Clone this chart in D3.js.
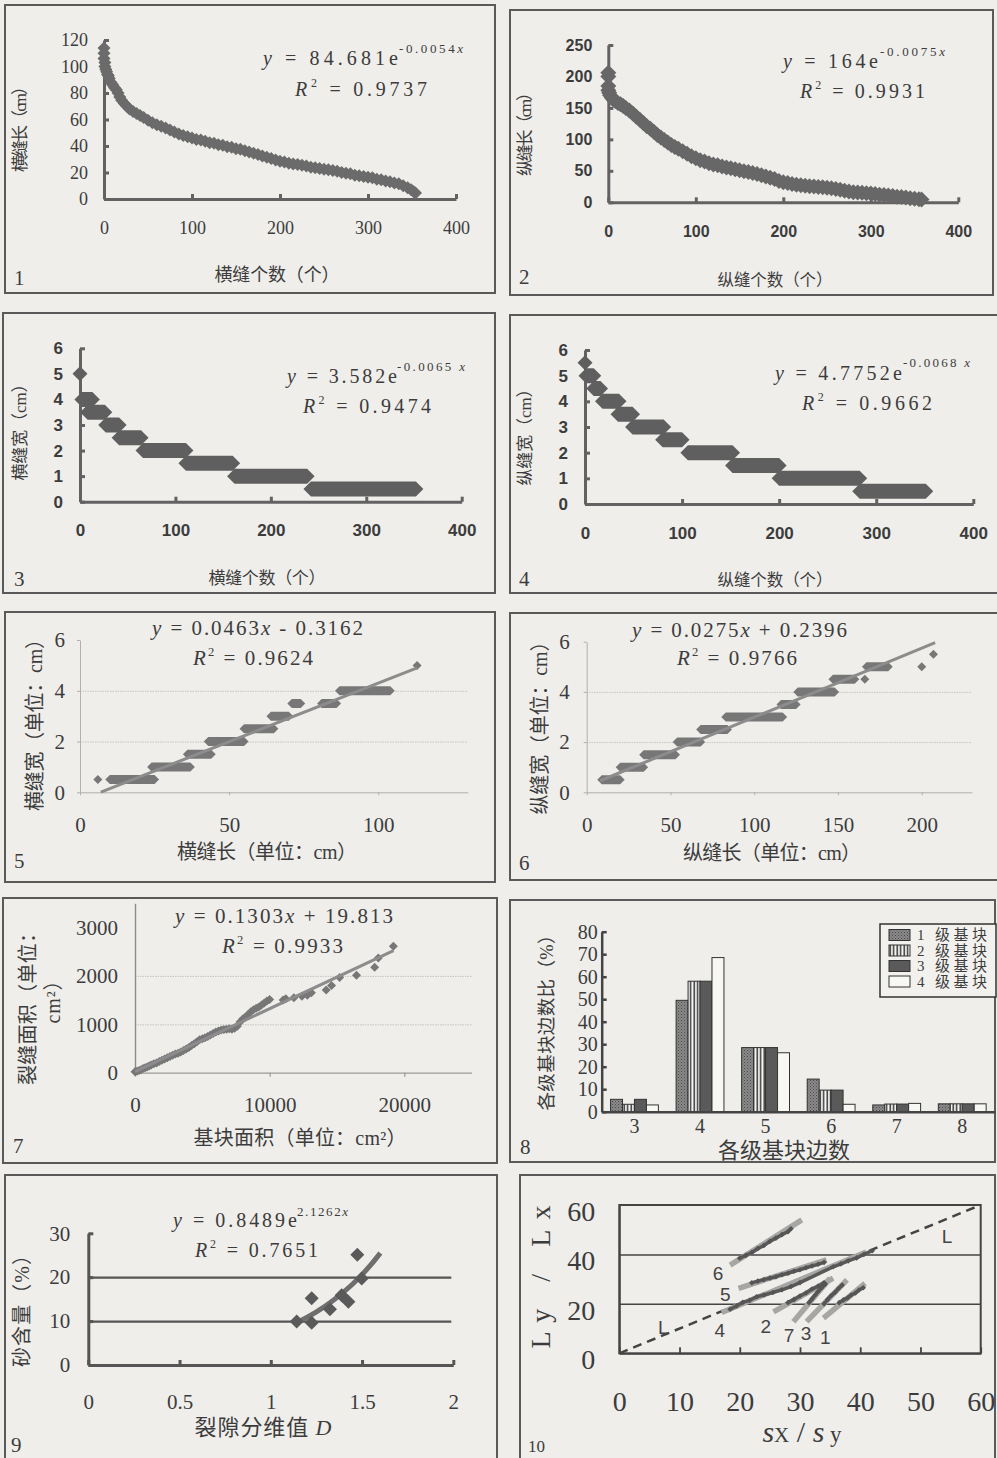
<!DOCTYPE html>
<html>
<head>
<meta charset="utf-8">
<title>裂缝统计图</title>
<script src="https://d3js.org/d3.v7.min.js"></script>
<style>
  body { margin: 0; background: #efeeeb; }
</style>
</head>
<body>
<div id="chart"></div>
<script>
// ---------------- data ----------------
// 1: 横缝长 vs 横缝个数 (rank, length cm)
var crossLenPts = [[0,114],[0,110],[0,106],[1,103],[1,100],[2,98],[3,96],[4,94],[5,93],[6,91],[8,88],[10,86],[12,84],[14,82.5],[16,80],[18,77],[20,74.5],[23,72],[26,70],[29,68],[33,66],[37,64.5],[41,63],[45,61.5],[50,59.5],[55,57.5],[60,56],[65,55],[70,53.5],[75,52],[80,50.5],[85,49],[90,48],[95,47],[100,46],[105,45],[110,44.5],[115,43.5],[120,42.5],[125,42],[130,41],[135,40.5],[140,39.5],[145,39],[150,38],[155,37.5],[160,36.5],[165,35.5],[170,34.5],[175,33.5],[180,32.5],[185,31.5],[190,30.5],[195,29.5],[200,28.5],[205,28],[210,27],[215,26.5],[220,26],[225,25.5],[230,25],[235,24],[240,23.5],[245,23],[250,22.5],[255,22],[260,21.5],[265,21],[270,20],[275,19.5],[280,19],[285,18],[290,17.5],[295,17],[300,16.5],[305,16],[310,15],[315,14.5],[320,13.5],[325,13],[330,12],[335,11.5],[340,10],[345,8.5],[349,7],[352,5.5],[354,4.5]];
// 2: 纵缝长 vs 纵缝个数
var longLenPts = [[0,206],[0,200],[0,185],[0,178],[1,174],[2,170],[4,166],[6,163],[8,161],[11,158],[14,156],[17,153],[20,150],[24,146],[28,141],[32,136],[36,131],[40,126],[44,121],[48,117],[52,112],[56,107],[60,103],[64,99],[68,95],[72,91],[76,88],[80,85],[85,81],[90,77],[95,73],[100,70],[105,67],[110,65],[115,62],[120,60],[125,59],[130,57],[135,55.5],[140,54],[145,52.5],[150,51],[155,49.5],[160,48],[165,46.5],[170,45],[175,43],[180,41],[185,39],[190,37],[195,34],[200,32],[205,30.5],[210,29],[215,28],[220,27],[225,26.5],[230,25.5],[235,25],[240,24.5],[245,24],[250,23],[255,22.5],[260,21],[265,20],[270,18.5],[275,17],[280,16],[285,15.5],[290,15],[295,14.5],[300,14],[305,13],[310,12],[315,11.5],[320,11],[325,10],[330,9],[335,8.5],[340,7.5],[345,6.5],[350,5.5],[355,5],[358,4.5]];
// 3, 4: width classes [width cm, first rank, last rank]
var crossWidthSteps = [[5,0,0],[4,2,13],[3.5,8,26],[3,27,41],[2.5,41,64],[2,66,111],[1.5,111,160],[1,162,238],[0.5,242,352]];
var longWidthSteps = [[5.5,0,0],[5,1,9],[4.5,9,16],[4,18,35],[3.5,34,49],[3,49,81],[2.5,80,100],[2,106,152],[1.5,152,200],[1,200,283],[0.5,283,351]];
// 5, 6: width vs length [width cm, length from, length to]
var crossLenWidth = [[0.5,6,6],[0.5,10,25],[1,24,37],[1.5,36,44],[2,43,55],[2.5,55,65],[3,64,70],[3.5,71,74],[3.5,81,86],[4,87,104],[5,113,113]];
var crossLenWidthFit = [[7,0.01],[113,4.9]];
var longLenWidth = [[0.5,9,20],[1,20,34],[1.5,34,53],[2,54,68],[2.5,68,84],[3,83,117],[3.5,116,125],[4,126,148],[4.5,147,160],[4.5,166,166],[5,167,180],[5,200,200],[5.5,207,207]];
var longLenWidthFit = [[8,0.46],[208,5.96]];
// 7: crack area vs block area
var areaPts = [[0,20],[150,30],[300,45],[450,60],[600,85],[750,100],[900,120],[1050,140],[1200,160],[1400,185],[1600,200],[1800,230],[2000,255],[2200,285],[2400,310],[2600,335],[2800,360],[3000,385],[3200,400],[3400,430],[3600,460],[3800,490],[4000,520],[4200,560],[4400,600],[4600,640],[4800,680],[5000,700],[5200,720],[5400,750],[5600,780],[5800,810],[6000,840],[6200,860],[6400,880],[6600,890],[6800,900],[7000,910],[7200,900],[7400,920],[7600,960],[7800,1050],[8000,1110],[8200,1150],[8400,1200],[8600,1260],[8800,1300],[9000,1330],[9200,1360],[9400,1400],[9600,1440],[9800,1480],[10000,1510],[11000,1500],[11200,1530],[11800,1550],[12400,1580],[12800,1600],[13100,1650],[14200,1710],[14600,1800],[15200,1965],[16450,2015],[17800,2180],[18070,2370],[19190,2615]];
var areaFit = [[0,20],[19200,2521]];
// 8: share of polygon sides by block grade
var sideCats = ['3','4','5','6','7','8'];
var gradeNames = ['1 级基块','2 级基块','3 级基块','4 级基块'];
var gradePct = [[5.5,49.5,28.5,14.5,3,3.5],[3.3,58,28.5,9.6,3.4,3.5],[5.5,58,28.5,9.6,3.4,3.5],[3,68.5,26.2,3.3,3.7,3.5]];
// 9: sand content vs fractal dimension
var sandPts = [[1.142,9.9],[1.224,9.6],[1.224,15.2],[1.324,12.7],[1.388,15.9],[1.425,14.4],[1.498,19.7],[1.474,25.1]];
var sandFit = [[1.14,9.6],[1.25,12.1],[1.35,15],[1.45,18.5],[1.55,22.9],[1.6,25.5]];
// 10: Ly/Lx vs Sx/Sy, series 1..7
var ratioNames = ['1','2','3','4','5','6','7'];
var ratioFits = [[[33.9,14.2],[40.8,28.3]],[[25.6,16.8],[35.5,30.4]],[[31.1,12.8],[37.8,29.7]],[[17,16.5],[41,41]],[[19.8,26.3],[34.4,37.8]],[[18.4,35.7],[30.3,54]],[[28.9,12.8],[35,30.4]]];
var ratioPts = [
  [[36.5,20.5],[37.2,21.6],[37.9,22.4],[38.5,23.6],[39.2,24.4],[39.8,25.6],[40.5,26.5]],
  [[28,20.5],[29,21.8],[30,23.2],[31,24.4],[32,26],[33,27.1],[34,28.5]],
  [[34,20],[34.6,21.8],[35.2,23.4],[35.8,24.6],[36.4,26.2],[37,27.6]],
  [[18.4,17.8],[19.5,19.2],[20.5,20.6],[21.6,21.4],[22.8,22.9],[24,23.6],[25.5,24.6],[27,25.7],[28.5,27],[30,28.6],[35.5,35],[36.8,36.2],[38,37.4],[39.4,38.6],[40.6,40],[42,41.5]],
  [[22,28.5],[23,29.2],[24,29.8],[25,30.4],[26,31],[27,31.8],[28,32.4],[29,33.2],[30,33.8],[31,34.6],[32,35.3],[33,36],[34,36.8]],
  [[20,38.5],[21,39.6],[22,40.8],[23,42.4],[24,43.6],[25,45.3],[26,46.6],[27,48],[28,49.2],[28.5,50.4]],
  [[31.5,20.5],[32,22],[32.5,23.5],[33,25],[33.6,26.5],[34.2,28]]
];
var diagLine = [[0,0],[60,60]];
// tick labels
var countTicks = [0,100,200,300,400];
var crossLenTicks = [0,20,40,60,80,100,120];
var longLenTicks = [0,50,100,150,200,250];
var widthTicks = [0,1,2,3,4,5,6];
var evenWidthTicks = [0,2,4,6];
var crossLenAxisTicks = [0,50,100];
var longLenAxisTicks = [0,50,100,150,200];
var areaYTicks = [0,1000,2000,3000];
var areaXTicks = [0,10000,20000];
var pctTicks = [0,10,20,30,40,50,60,70,80];
var sandTicks = [0,10,20,30];
var dimTicks = [0,0.5,1,1.5,2];
var ratioTicks = [0,10,20,30,40,50,60];
var ratioYTicks = [0,20,40,60];

// ---------------- drawing ----------------
var W = 997, H = 1458;
var SERIF = '"Liberation Serif","DejaVu Serif",serif';
var MIX = '"Liberation Serif","Noto Sans CJK SC",serif';
var SANS = '"Liberation Sans",Arial,sans-serif';
var INK = '#3c3c3c';
var fmt = d3.format('~g');

var svg = d3.select('#chart').append('svg').attr('width', W).attr('height', H);
var defs = svg.append('defs');
var pStip = defs.append('pattern').attr('id', 'stip').attr('patternUnits', 'userSpaceOnUse').attr('width', 3).attr('height', 3);
pStip.append('rect').attr('width', 3).attr('height', 3).attr('fill', '#8a8a8a');
pStip.append('rect').attr('width', 1).attr('height', 1).attr('fill', '#4a4a4a');
pStip.append('rect').attr('x', 1.5).attr('y', 1.5).attr('width', 1).attr('height', 1).attr('fill', '#5a5a5a');
var pStripe = defs.append('pattern').attr('id', 'stripe').attr('patternUnits', 'userSpaceOnUse').attr('width', 3.5).attr('height', 4);
pStripe.append('rect').attr('width', 3.5).attr('height', 4).attr('fill', '#f7f7f4');
pStripe.append('rect').attr('x', 0.5).attr('width', 1.4).attr('height', 4).attr('fill', '#2a2a2a');
var gradeFill = ['url(#stip)', 'url(#stripe)', '#5a5a5a', '#f7f7f4'];

svg.append('rect').attr('width', W).attr('height', H).attr('fill', '#efeeeb');

// panel frames
[[5,5,490,288],[510,10,483,285],[3,313,492,280],[510,315,492,278],[5,612,490,270],
 [510,613,492,267],[3,898,494,265],[510,900,485,262],[5,1175,492,290],[520,1175,475,290]]
  .forEach(function (f) {
    svg.append('rect').attr('x', f[0]).attr('y', f[1]).attr('width', f[2]).attr('height', f[3])
      .attr('fill', 'none').attr('stroke', '#5a5a5a').attr('stroke-width', 2);
  });

function axisStyle(sel, color, width, font, size, weight) {
  sel.attr('font-family', font).attr('font-size', size).attr('font-weight', weight || 'normal');
  sel.select('.domain').attr('stroke', color).attr('stroke-width', width);
  sel.selectAll('.tick line').attr('stroke', color).attr('stroke-width', width);
  sel.selectAll('.tick text').attr('fill', INK);
  return sel;
}
function diamond(r) { return 'M0,' + (-r) + 'L' + r + ',0L0,' + r + 'L' + (-r) + ',0Z'; }
function bandPath(xa, xb, yc, r) {
  return 'M' + (xa - r) + ',' + yc + 'L' + xa + ',' + (yc - r) + 'L' + xb + ',' + (yc - r) +
    'L' + (xb + r) + ',' + yc + 'L' + xb + ',' + (yc + r) + 'L' + xa + ',' + (yc + r) + 'Z';
}
function title(x, y, txt, size, rotate, len, font) {
  var t = svg.append('text').attr('font-family', font || MIX).attr('font-size', size).attr('fill', INK)
    .attr('text-anchor', 'middle').attr('dominant-baseline', 'central').text(txt);
  if (rotate) t.attr('transform', 'translate(' + x + ',' + y + ') rotate(-90)');
  else t.attr('x', x).attr('y', y);
  if (len) t.attr('textLength', len).attr('lengthAdjust', 'spacing');
  return t;
}
function eqLine(x, y, size, len, parts) {
  var t = svg.append('text').attr('x', x).attr('y', y).attr('font-family', SERIF).attr('font-size', size)
    .attr('fill', INK).attr('textLength', len).attr('lengthAdjust', 'spacing');
  parts.forEach(function (p) {
    var s = t.append('tspan').text(p[0]);
    if (p[1] === 'i') s.attr('font-style', 'italic');
    if (p[1] === 'sup') s.attr('font-size', size * 0.6).attr('dy', -size * 0.45);
    if (p[1] === 'back') s.attr('dy', size * 0.45);
  });
  return t;
}
function rSquared(x, y, size, len, val) {
  return eqLine(x, y, size, len, [['R', 'i'], ['2', 'sup'], [' = ' + val, 'back']]);
}
function panelNo(x, y, txt, size) {
  svg.append('text').attr('x', x).attr('y', y).attr('font-family', SERIF).attr('font-size', size || 21)
    .attr('fill', INK).text(txt);
}
function linePath(xs, ys) { return d3.line().x(function (d) { return xs(d[0]); }).y(function (d) { return ys(d[1]); }); }

// ---- panel 1 ----
var x1 = d3.scaleLinear().domain([0, 400]).range([104, 456]);
var y1 = d3.scaleLinear().domain([0, 120]).range([199, 40]);
axisStyle(svg.append('g').attr('transform', 'translate(0,199)')
  .call(d3.axisBottom(x1).tickValues(countTicks).tickFormat(fmt).tickSizeInner(-5).tickSizeOuter(0).tickPadding(22)), '#626262', 3, SERIF, 18);
axisStyle(svg.append('g').attr('transform', 'translate(104,0)')
  .call(d3.axisLeft(y1).tickValues(crossLenTicks).tickFormat(fmt).tickSizeInner(-5).tickSizeOuter(0).tickPadding(16)), '#626262', 3, SERIF, 18);
svg.append('g').selectAll('path').data(crossLenPts).join('path')
  .attr('transform', function (d) { return 'translate(' + x1(d[0]) + ',' + y1(d[1]) + ')'; })
  .attr('d', diamond(6.5)).attr('fill', '#6b6b6b');
eqLine(263, 65, 20, 135, [['y', 'i'], [' = 84.681e']]);
eqLine(399, 53, 13, 64, [['-0.0054'], ['x', 'i']]);
rSquared(295, 96, 20, 132, '0.9737');
title(20, 125, '横缝长（cm）', 17, true, 94);
title(277, 275, '横缝个数（个）', 18, false, 125);
panelNo(14, 285, '1');

// ---- panel 2 ----
var x2 = d3.scaleLinear().domain([0, 400]).range([608.3, 958.3]);
var y2 = d3.scaleLinear().domain([0, 250]).range([202.3, 45]);
axisStyle(svg.append('g').attr('transform', 'translate(0,202.3)')
  .call(d3.axisBottom(x2).tickValues(countTicks).tickFormat(fmt).tickSizeInner(-5).tickSizeOuter(0).tickPadding(23)), '#626262', 3, SANS, 16, 'bold');
axisStyle(svg.append('g').attr('transform', 'translate(608.3,0)')
  .call(d3.axisLeft(y2).tickValues(longLenTicks).tickFormat(fmt).tickSizeInner(-5).tickSizeOuter(0).tickPadding(16)), '#626262', 3, SANS, 16, 'bold');
svg.append('g').selectAll('path').data(longLenPts).join('path')
  .attr('transform', function (d) { return 'translate(' + x2(d[0]) + ',' + y2(d[1]) + ')'; })
  .attr('d', diamond(8)).attr('fill', '#676767');
eqLine(783, 68, 20, 95, [['y', 'i'], [' = 164e']]);
eqLine(880, 56, 13, 65, [['-0.0075'], ['x', 'i']]);
rSquared(800, 98, 20, 125, '0.9931');
title(525, 130, '纵缝长（cm）', 17, true, 92);
title(775, 280, '纵缝个数（个）', 16.5, false, 115);
panelNo(519, 284, '2');

// ---- panel 3 ----
var x3 = d3.scaleLinear().domain([0, 400]).range([80, 461.7]);
var y3 = d3.scaleLinear().domain([0, 6]).range([501.7, 348.3]);
axisStyle(svg.append('g').attr('transform', 'translate(0,501.7)')
  .call(d3.axisBottom(x3).tickValues(countTicks).tickFormat(fmt).tickSizeInner(-5).tickSizeOuter(0).tickPadding(22)), '#626262', 3, SANS, 17, 'bold');
axisStyle(svg.append('g').attr('transform', 'translate(80,0)')
  .call(d3.axisLeft(y3).tickValues(widthTicks).tickFormat(fmt).tickSizeInner(-5).tickSizeOuter(0).tickPadding(17)), '#626262', 3, SANS, 17, 'bold');
svg.append('g').selectAll('path').data(crossWidthSteps).join('path')
  .attr('d', function (d) { return bandPath(x3(d[1]), x3(d[2]), y3(d[0]), 7.5); })
  .attr('fill', '#5f5f5f');
eqLine(287, 383, 20, 110, [['y', 'i'], [' = 3.582e']]);
eqLine(397, 371, 13, 68, [['-0.0065 '], ['x', 'i']]);
rSquared(303, 413, 20, 128, '0.9474');
title(20, 428, '横缝宽（cm）', 17, true, 105);
title(267, 578, '横缝个数（个）', 17, false, 117);
panelNo(14, 586, '3');

// ---- panel 4 ----
var x4 = d3.scaleLinear().domain([0, 400]).range([585, 973.3]);
var y4 = d3.scaleLinear().domain([0, 6]).range([504, 350]);
axisStyle(svg.append('g').attr('transform', 'translate(0,504)')
  .call(d3.axisBottom(x4).tickValues(countTicks).tickFormat(fmt).tickSizeInner(-5).tickSizeOuter(0).tickPadding(23)), '#626262', 3, SANS, 17, 'bold');
axisStyle(svg.append('g').attr('transform', 'translate(585,0)')
  .call(d3.axisLeft(y4).tickValues(widthTicks).tickFormat(fmt).tickSizeInner(-5).tickSizeOuter(0).tickPadding(17)), '#626262', 3, SANS, 17, 'bold');
svg.append('g').selectAll('path').data(longWidthSteps).join('path')
  .attr('d', function (d) { return bandPath(x4(d[1]), x4(d[2]), y4(d[0]), 7.5); })
  .attr('fill', '#5f5f5f');
eqLine(775, 380, 20, 127, [['y', 'i'], [' = 4.7752e']]);
eqLine(903, 367, 13, 67, [['-0.0068 '], ['x', 'i']]);
rSquared(802, 410, 20, 130, '0.9662');
title(525, 433, '纵缝宽（cm）', 17, true, 105);
title(775, 580, '纵缝个数（个）', 16.5, false, 115);
panelNo(519, 586, '4');

// ---- panel 5 ----
var x5 = d3.scaleLinear().domain([0, 130]).range([80, 467.8]);
var y5 = d3.scaleLinear().domain([0, 6]).range([792.3, 640]);
svg.append('g').attr('transform', 'translate(80,0)')
  .call(d3.axisLeft(y5).tickValues([2, 4]).tickSize(-387.8).tickFormat(''))
  .call(function (g) { g.select('.domain').remove(); g.selectAll('line').attr('stroke', '#c4c4c0').attr('stroke-dasharray', '1.5,1'); });
axisStyle(svg.append('g').attr('transform', 'translate(0,792.3)')
  .call(d3.axisBottom(x5).tickValues(crossLenAxisTicks).tickFormat(fmt).tickSizeInner(3).tickSizeOuter(0).tickPadding(22)), '#b0b0ac', 1, SERIF, 21);
axisStyle(svg.append('g').attr('transform', 'translate(80,0)')
  .call(d3.axisLeft(y5).tickValues(evenWidthTicks).tickFormat(fmt).tickSizeInner(3).tickSizeOuter(0).tickPadding(12)), '#b0b0ac', 1, SERIF, 21);
svg.append('g').selectAll('path').data(crossLenWidth).join('path')
  .attr('d', function (d) { return bandPath(x5(d[1]), x5(d[2]), y5(d[0]), 4.5); })
  .attr('fill', '#777');
svg.append('path').attr('d', linePath(x5, y5)(crossLenWidthFit)).attr('stroke', '#8c8c8c').attr('stroke-width', 3).attr('fill', 'none');
eqLine(152, 635, 21, 211, [['y', 'i'], [' = 0.0463'], ['x', 'i'], [' - 0.3162']]);
rSquared(193, 665, 21, 120, '0.9624');
title(35, 720, '横缝宽（单位：cm）', 20, true, 182);
title(267, 852, '横缝长（单位：cm）', 20, false, 180);
panelNo(14, 868, '5');

// ---- panel 6 ----
var x6 = d3.scaleLinear().domain([0, 230]).range([586.7, 972]);
var y6 = d3.scaleLinear().domain([0, 6]).range([792.3, 641.7]);
svg.append('g').attr('transform', 'translate(586.7,0)')
  .call(d3.axisLeft(y6).tickValues([2, 4]).tickSize(-385.3).tickFormat(''))
  .call(function (g) { g.select('.domain').remove(); g.selectAll('line').attr('stroke', '#c4c4c0').attr('stroke-dasharray', '1.5,1'); });
axisStyle(svg.append('g').attr('transform', 'translate(0,792.3)')
  .call(d3.axisBottom(x6).tickValues(longLenAxisTicks).tickFormat(fmt).tickSizeInner(3).tickSizeOuter(0).tickPadding(22)), '#b0b0ac', 1, SERIF, 21);
axisStyle(svg.append('g').attr('transform', 'translate(586.7,0)')
  .call(d3.axisLeft(y6).tickValues(evenWidthTicks).tickFormat(fmt).tickSizeInner(3).tickSizeOuter(0).tickPadding(14)), '#b0b0ac', 1, SERIF, 21);
svg.append('g').selectAll('path').data(longLenWidth).join('path')
  .attr('d', function (d) { return bandPath(x6(d[1]), x6(d[2]), y6(d[0]), 4.5); })
  .attr('fill', '#777');
svg.append('path').attr('d', linePath(x6, y6)(longLenWidthFit)).attr('stroke', '#8c8c8c').attr('stroke-width', 3).attr('fill', 'none');
eqLine(632, 637, 21, 215, [['y', 'i'], [' = 0.0275'], ['x', 'i'], [' + 0.2396']]);
rSquared(677, 665, 21, 120, '0.9766');
title(540, 723, '纵缝宽（单位：cm）', 20, true, 183);
title(772, 853, '纵缝长（单位：cm）', 20, false, 178);
panelNo(519, 870, '6');

// ---- panel 7 ----
var x7 = d3.scaleLinear().domain([0, 25000]).range([135, 471.6]);
var y7 = d3.scaleLinear().domain([0, 3500]).range([1072.7, 903.3]);
svg.append('g').attr('transform', 'translate(135,0)')
  .call(d3.axisLeft(y7).tickValues([1000, 2000]).tickSize(-336.6).tickFormat(''))
  .call(function (g) { g.select('.domain').remove(); g.selectAll('line').attr('stroke', '#c4c4c0').attr('stroke-dasharray', '1.5,1'); });
axisStyle(svg.append('g').attr('transform', 'translate(0,1072.7)')
  .call(d3.axisBottom(x7).tickValues(areaXTicks).tickFormat(fmt).tickSizeInner(4).tickSizeOuter(0).tickPadding(20)), '#9a9a96', 1.2, SERIF, 21);
axisStyle(svg.append('g').attr('transform', 'translate(135,0)')
  .call(d3.axisLeft(y7).tickValues(areaYTicks).tickFormat(fmt).tickSizeInner(0).tickSizeOuter(0).tickPadding(17)), '#8a8a86', 1.4, SERIF, 21);
svg.append('g').selectAll('path').data(areaPts).join('path')
  .attr('transform', function (d) { return 'translate(' + x7(d[0]) + ',' + y7(d[1]) + ')'; })
  .attr('d', diamond(4.5)).attr('fill', '#777');
svg.append('path').attr('d', linePath(x7, y7)(areaFit)).attr('stroke', '#8c8c8c').attr('stroke-width', 3).attr('fill', 'none');
eqLine(175, 923, 21, 218, [['y', 'i'], [' = 0.1303'], ['x', 'i'], [' + 19.813']]);
rSquared(222, 953, 21, 121, '0.9933');
title(28, 1004, '裂缝面积（单位：', 20, true, 162);
title(53, 997, 'cm²）', 20, true, 53);
title(300, 1138, '基块面积（单位：cm²）', 20, false, 213);
panelNo(13, 1153, '7');

// ---- panel 8 ----
var x8 = d3.scaleBand().domain(sideCats).range([601.7, 995]).paddingInner(0.27).paddingOuter(0.135);
var g8 = d3.scaleBand().domain(d3.range(gradeNames.length)).range([0, x8.bandwidth()]);
var y8 = d3.scaleLinear().domain([0, 80]).range([1111.7, 931.7]);
gradePct.forEach(function (vals, gi) {
  svg.append('g').selectAll('rect').data(vals).join('rect')
    .attr('x', function (d, i) { return x8(sideCats[i]) + g8(gi); })
    .attr('y', function (d) { return y8(d); })
    .attr('width', g8.bandwidth())
    .attr('height', function (d) { return y8(0) - y8(d); })
    .attr('fill', gradeFill[gi]).attr('stroke', '#333').attr('stroke-width', 1);
});
axisStyle(svg.append('g').attr('transform', 'translate(0,1111.7)')
  .call(d3.axisBottom(x8).tickSizeInner(0).tickSizeOuter(0).tickPadding(7)), '#444', 2.5, SERIF, 20);
axisStyle(svg.append('g').attr('transform', 'translate(601.7,0)')
  .call(d3.axisLeft(y8).tickValues(pctTicks).tickFormat(fmt).tickSizeInner(-5).tickSizeOuter(0).tickPadding(4)), '#444', 2.5, SERIF, 20);
svg.append('rect').attr('x', 880).attr('y', 924).attr('width', 116).attr('height', 73)
  .attr('fill', '#f2f1ee').attr('stroke', '#333').attr('stroke-width', 1.5);
var lg = svg.append('g').selectAll('g').data(gradeNames).join('g')
  .attr('transform', function (d, i) { return 'translate(889,' + (935 + i * 15.5) + ')'; });
lg.append('rect').attr('x', 0).attr('y', -5.5).attr('width', 21).attr('height', 11)
  .attr('fill', function (d, i) { return gradeFill[i]; }).attr('stroke', '#333').attr('stroke-width', 1);
lg.append('text').attr('x', 28).attr('dy', '0.35em').attr('font-family', MIX).attr('font-size', 15)
  .attr('fill', INK).attr('textLength', 70).attr('lengthAdjust', 'spacing').text(function (d) { return d; });
title(547, 1018, '各级基块边数比（%）', 18.5, true, 185);
title(784, 1150, '各级基块边数', 22, false, 132);
panelNo(520, 1154, '8');

// ---- panel 9 ----
var x9 = d3.scaleLinear().domain([0, 2]).range([88.3, 453.3]);
var y9 = d3.scaleLinear().domain([0, 30]).range([1365, 1233.3]);
svg.append('g').attr('transform', 'translate(88.3,0)')
  .call(d3.axisLeft(y9).tickValues([10, 20]).tickSize(-363).tickFormat(''))
  .call(function (g) { g.select('.domain').remove(); g.selectAll('line').attr('stroke', '#555').attr('stroke-width', 2.2); });
axisStyle(svg.append('g').attr('transform', 'translate(0,1365)')
  .call(d3.axisBottom(x9).tickValues(dimTicks).tickFormat(fmt).tickSizeInner(-5).tickSizeOuter(0).tickPadding(29)), '#555', 3, SERIF, 21);
axisStyle(svg.append('g').attr('transform', 'translate(88.3,0)')
  .call(d3.axisLeft(y9).tickValues(sandTicks).tickFormat(fmt).tickSizeInner(-5).tickSizeOuter(0).tickPadding(18)), '#555', 3, SERIF, 21);
svg.append('path').attr('d', linePath(x9, y9).curve(d3.curveMonotoneX)(sandFit))
  .attr('stroke', '#6e6e6e').attr('stroke-width', 5).attr('fill', 'none');
svg.append('g').selectAll('path').data(sandPts).join('path')
  .attr('transform', function (d) { return 'translate(' + x9(d[0]) + ',' + y9(d[1]) + ')'; })
  .attr('d', diamond(7)).attr('fill', '#5a5a5a');
eqLine(173, 1227, 20, 124, [['y', 'i'], [' = 0.8489e']]);
eqLine(297, 1216, 13, 51, [['2.1262'], ['x', 'i']]);
rSquared(195, 1257, 20, 123, '0.7651');
title(22, 1306, '砂含量（%）', 20, true, 122);
var t9 = title(263, 1427, '', 22, false, 137);
t9.append('tspan').text('裂隙分维值 ');
t9.append('tspan').attr('font-family', SERIF).attr('font-style', 'italic').text('D');
panelNo(11, 1452, '9');

// ---- panel 10 ----
var x10 = d3.scaleLinear().domain([0, 60]).range([619.3, 980.7]);
var y10 = d3.scaleLinear().domain([0, 60]).range([1353.3, 1205]);
svg.append('g').attr('transform', 'translate(619.3,0)')
  .call(d3.axisLeft(y10).tickValues([20, 40]).tickSize(-361.4).tickFormat(''))
  .call(function (g) { g.select('.domain').remove(); g.selectAll('line').attr('stroke', '#444').attr('stroke-width', 1.5); });
svg.append('rect').attr('x', x10(0)).attr('y', y10(60)).attr('width', x10(60) - x10(0)).attr('height', y10(0) - y10(60))
  .attr('fill', 'none').attr('stroke', '#444').attr('stroke-width', 2);
axisStyle(svg.append('g').attr('transform', 'translate(0,1353.3)')
  .call(d3.axisBottom(x10).tickValues(ratioTicks).tickFormat(fmt).tickSizeInner(-6).tickSizeOuter(0).tickPadding(38)), '#444', 1.8, SERIF, 28);
var ya10 = axisStyle(svg.append('g').attr('transform', 'translate(619.3,0)')
  .call(d3.axisLeft(y10).tickValues(ratioYTicks).tickFormat(fmt).tickSizeInner(0).tickSizeOuter(0).tickPadding(24)), '#444', 1.8, SERIF, 28);
ya10.selectAll('.tick text').attr('dy', '0.55em');
svg.append('path').attr('d', linePath(x10, y10)(diagLine)).attr('stroke', '#444').attr('stroke-width', 2.5)
  .attr('stroke-dasharray', '9,6').attr('fill', 'none');
svg.append('g').selectAll('path').data(ratioFits).join('path')
  .attr('d', function (d) { return linePath(x10, y10)(d); })
  .attr('stroke', '#a6a6a4').attr('stroke-width', 5.5).attr('fill', 'none');
svg.append('g').selectAll('path').data(ratioPts).join('path')
  .attr('d', function (d) { return linePath(x10, y10)(d); })
  .attr('stroke', '#595959').attr('stroke-width', 3.5).attr('stroke-linejoin', 'round').attr('fill', 'none');
ratioPts.forEach(function (s) {
  svg.append('g').selectAll('path').data(s).join('path')
    .attr('transform', function (d) { return 'translate(' + x10(d[0]) + ',' + y10(d[1]) + ')'; })
    .attr('d', diamond(2.8)).attr('fill', '#555');
});
[['6', 16.4, 32.4], ['5', 17.6, 23.6], ['4', 16.7, 9.4], ['2', 24.3, 10.8], ['7', 28.2, 7.4], ['3', 31.0, 8.2], ['1', 34.2, 6.2], ['L', 7.3, 10.6], ['L', 54.4, 47.1]]
  .forEach(function (l) {
    svg.append('text').attr('x', x10(l[1])).attr('y', y10(l[2])).attr('text-anchor', 'middle')
      .attr('dominant-baseline', 'central').attr('font-family', SANS).attr('font-size', 19).attr('fill', '#444').text(l[0]);
  });
title(540, 1277, 'Ly / Lx', 28, true, 143, SERIF);
var sx = svg.append('text').attr('x', 802).attr('y', 1442).attr('text-anchor', 'middle')
  .attr('font-family', SERIF).attr('font-size', 30).attr('fill', INK);
sx.append('tspan').attr('font-style', 'italic').text('s');
sx.append('tspan').attr('font-size', 21).text('X');
sx.append('tspan').text(' / ');
sx.append('tspan').attr('font-style', 'italic').text('s');
sx.append('tspan').attr('font-size', 23).text(' y');
panelNo(528, 1452, '10', 17);
</script>
</body>
</html>
